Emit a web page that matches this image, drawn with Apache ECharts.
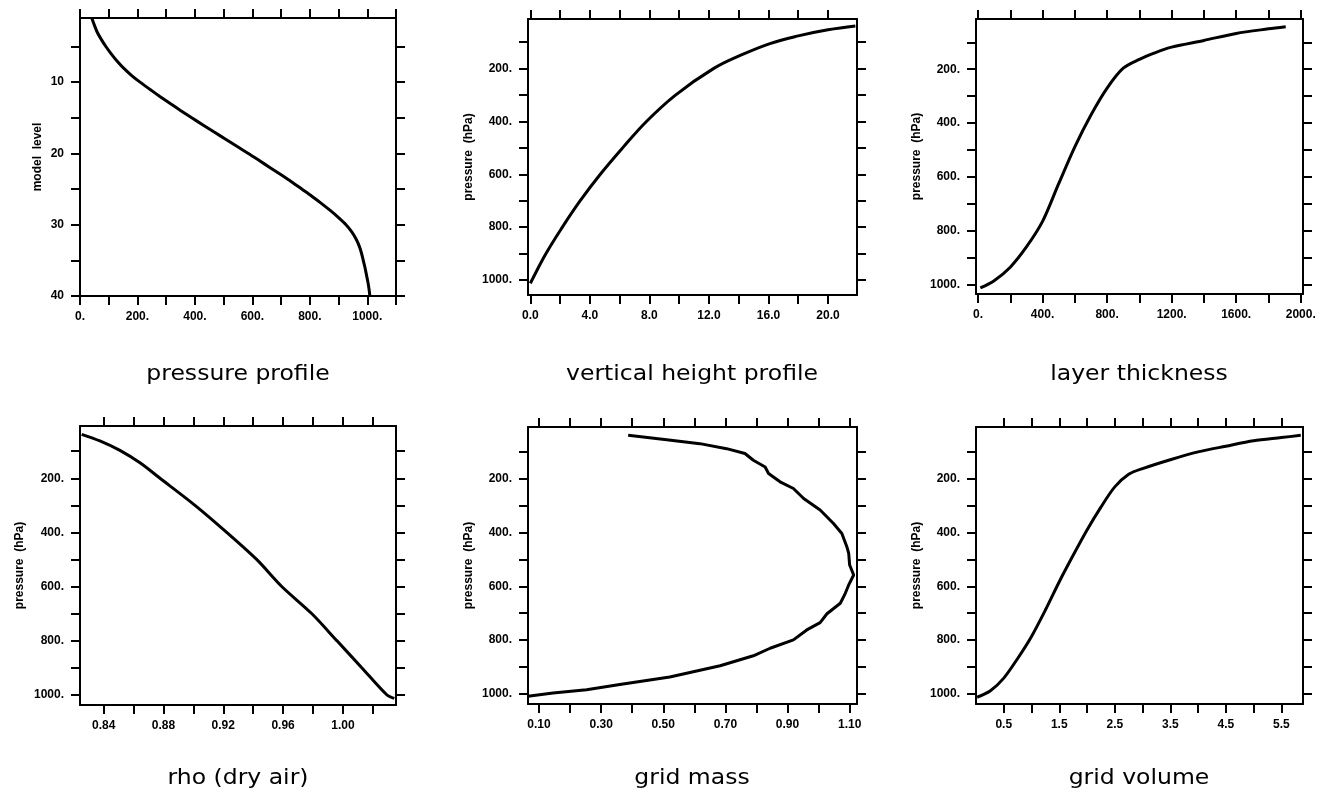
<!DOCTYPE html>
<html><head><meta charset="utf-8">
<script src="https://cdn.jsdelivr.net/npm/echarts@6/dist/echarts.min.js"></script>
<style>html,body{margin:0;padding:0;background:#fff}#c{width:1322px;height:797px}</style>
</head><body><div id="c"></div>
<script>
// ---- panel 1: pressure profile (x = pressure hPa, y = model level)
const levels = [1,2,3,4,5,6,7,8,9,10,11,12,13,14,15,16,17,18,19,20,21,22,23,24,25,26,27,28,29,30,31,32,33,34,35,36,37,38,39,40];
const levelPressure = [41,50,60,74,90,108,128,151,178,209,243,278,314,351,389,428,467,507,546,586,624,662,700,737,772,807,840,871,900,926,946,961,972,980,986,992,997,1002,1006,1009];
// ---- panel 2: vertical height profile (km vs hPa)
const heightKm = [0.0,0.11,1.05,2.15,3.35,4.7,6.2,7.8,9.75,12.3,14.1,16.1,18.0,20.0,21.84];
const heightP  = [1013,1000,900,800,700,600,500,400,300,200,150,105,76,53,38.5];
// ---- panel 3: layer thickness
const thickX = [14.5,100,200,300,400,500,600,700,800,900,1000,1100,1200,1400,1600,1800,1907];
const thickP = [1012,985,935,860,765,625,488,370,270,196,163,138,118,93,67,50,42];
// ---- panel 4: rho (dry air)
const rhoX = [0.8253,0.8375,0.8509,0.8643,0.8777,0.9011,0.9223,0.9423,0.9591,0.9791,0.9959,1.0126,1.0293,1.0344];
const rhoP = [37.5,62,97,143,200,300,400,500,600,700,800,900,1000,1013.5];
// ---- panel 5: grid mass
const massX = [0.387,0.511,0.618,0.704,0.763,0.790,0.828,0.839,0.876,0.919,0.952,1.005,1.048,1.075,1.091,1.097,1.100,1.113,1.097,1.086,1.070,1.027,1.005,0.962,0.919,0.844,0.790,0.683,0.521,0.360,0.253,0.145,0.0645];
const massP = [39.5,55.6,70.4,89,107,132,157,181,212,237,274,317,367,404,453,478,521,558,595,626,663,702,735,762,799,830,858,895,937,965,984,996,1008.6];
// ---- panel 6: grid volume
const volX = [0.02,0.26,0.5,0.75,1.0,1.25,1.5,1.75,2.0,2.25,2.5,2.75,3.0,3.5,4.0,4.5,5.0,5.5,5.85];
const volP = [1012,988,941,868,786,688,583,485,391,306,231,184,163,130,101,80,60,48,39.5];

// ---- ticks and labels
const p1XTicks = [0,100,200,300,400,500,600,700,800,900,1000,1100];
const p1XLabels = [0,200,400,600,800,1000];
const p1YTicks = [5,10,15,20,25,30,35,40];
const p1YLabels = [10,20,30,40];
const pressTicks = [100,200,300,400,500,600,700,800,900,1000];
const pressLabels = [200,400,600,800,1000];
const p2XTicks = [0,2,4,6,8,10,12,14,16,18,20];
const p2XLabels = [0,4,8,12,16,20];
const p3XTicks = [0,200,400,600,800,1000,1200,1400,1600,1800,2000];
const p3XLabels = [0,400,800,1200,1600,2000];
const p4XTicks = [0.84,0.86,0.88,0.90,0.92,0.94,0.96,0.98,1.00,1.02];
const p4XLabels = [0.84,0.88,0.92,0.96,1.00];
const p5XTicks = [0.1,0.2,0.3,0.4,0.5,0.6,0.7,0.8,0.9,1.0,1.1];
const p5XLabels = [0.1,0.3,0.5,0.7,0.9,1.1];
const p6XTicks = [0.5,1.0,1.5,2.0,2.5,3.0,3.5,4.0,4.5,5.0,5.5];
const p6XLabels = [0.5,1.5,2.5,3.5,4.5,5.5];

const titles = ['pressure profile','vertical height profile','layer thickness','rho (dry air)','grid mass','grid volume'];
const pressName = 'pressure  (hPa)';

const zip = (a, b) => a.map((v, i) => [v, b[i]]);
const intDot = v => Math.round(v) + '.';
const fix = d => v => Number(v).toFixed(d);

const panels = [
  {box:[80,18,316,278], xr:[0,1100], yr:[1,40], xt:p1XTicks, xl:p1XLabels, xf:intDot, yt:p1YTicks, yl:p1YLabels, yf:v=>String(Math.round(v)), name:'model  level', gap:36, data:zip(levelPressure, levels), smooth:0.3, tx:238, ty:375},
  {box:[528,19,329,276], xr:[-0.16,21.95], yr:[12,1057], xt:p2XTicks, xl:p2XLabels, xf:fix(1), yt:pressTicks, yl:pressLabels, yf:intDot, name:pressName, gap:53, data:zip(heightKm, heightP), smooth:0.4, tx:692, ty:375},
  {box:[976,19,327,275], xr:[-12.4,2014], yr:[13.4,1034.6], xt:p3XTicks, xl:p3XLabels, xf:intDot, yt:pressTicks, yl:pressLabels, yf:intDot, name:pressName, gap:53, data:zip(thickX, thickP), smooth:0.3, tx:1139, ty:375},
  {box:[80,426,316,279], xr:[0.8242,1.0355], yr:[6.8,1038], xt:p4XTicks, xl:p4XLabels, xf:fix(2), yt:pressTicks, yl:pressLabels, yf:intDot, name:pressName, gap:54, data:zip(rhoX, rhoP), smooth:0.3, tx:238, ty:779},
  {box:[528,427,329,277], xr:[0.0645,1.1237], yr:[8.6,1037], xt:p5XTicks, xl:p5XLabels, xf:fix(2), yt:pressTicks, yl:pressLabels, yf:intDot, name:pressName, gap:53, data:zip(massX, massP), smooth:0, tx:692, ty:779},
  {box:[976,427,327,277], xr:[0,5.89], yr:[8.6,1037], xt:p6XTicks, xl:p6XLabels, xf:fix(1), yt:pressTicks, yl:pressLabels, yf:intDot, name:pressName, gap:53, data:zip(volX, volP), smooth:0.3, tx:1139, ty:779}
];

const FONT = 'Liberation Sans';
const lineS = {color:'#000', width:2};
const grid = [], xAxis = [], yAxis = [], series = [], graphic = [];
panels.forEach((p, g) => {
  grid.push({left:p.box[0], top:p.box[1], width:p.box[2], height:p.box[3], outerBoundsMode:'none', containLabel:false, show:false});
  const tickBase = {show:true, inside:false, length:9, lineStyle:lineS};
  ['bottom','top'].forEach((pos, k) => {
    xAxis.push({
      type:'value', gridIndex:g, position:pos, min:p.xr[0], max:p.xr[1],
      axisLine:{show:true, onZero:false, lineStyle:lineS},
      axisTick:Object.assign({customValues:p.xt}, tickBase),
      splitLine:{show:false},
      axisLabel: k === 0 ? {show:true, customValues:p.xl, formatter:p.xf, margin:15, color:'#000', fontFamily:FONT, fontWeight:'bold', fontSize:12} : {show:false}
    });
  });
  ['left','right'].forEach((pos, k) => {
    yAxis.push({
      type:'value', gridIndex:g, position:pos, min:p.yr[0], max:p.yr[1], inverse:true,
      axisLine:{show:true, onZero:false, lineStyle:lineS},
      axisTick:Object.assign({customValues:p.yt}, tickBase),
      splitLine:{show:false},
      name: k === 0 ? p.name : '',
      nameLocation:'middle', nameRotate:90, nameGap:p.gap,
      nameTextStyle:{color:'#000', fontFamily:FONT, fontWeight:'bold', fontSize:12},
      axisLabel: k === 0 ? {show:true, customValues:p.yl, formatter:p.yf, margin:16, color:'#000', fontFamily:FONT, fontWeight:'bold', fontSize:12} : {show:false}
    });
  });
  series.push({
    type:'line', xAxisIndex:2*g, yAxisIndex:2*g, data:p.data, showSymbol:false, symbol:'none',
    smooth:p.smooth, lineStyle:{color:'#000', width:3}, silent:true, animation:false, clip:true
  });
  graphic.push({type:'text', x:p.tx, y:p.ty, scaleX:1.12, style:{text:titles[g], fill:'#000', font:'21px "DejaVu Sans"', textAlign:'center', textVerticalAlign:'middle'}});
});

const chart = echarts.init(document.getElementById('c'), null, {renderer:'canvas'});
chart.setOption({animation:false, backgroundColor:'#fff', grid, xAxis, yAxis, series, graphic});
</script></body></html>
